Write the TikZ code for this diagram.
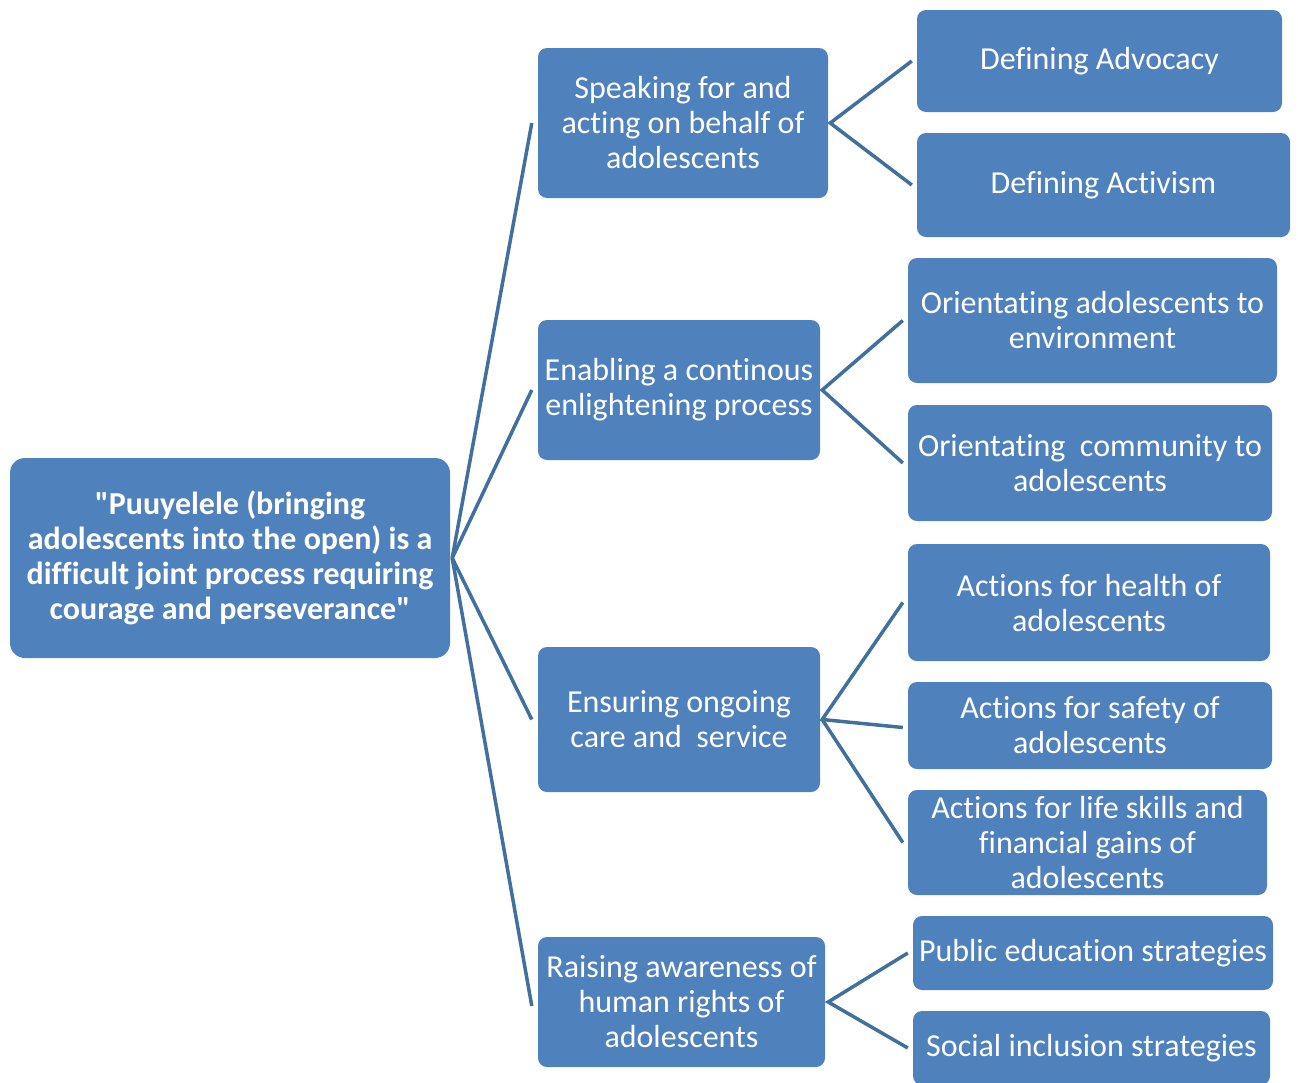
\documentclass[tikz,border=0pt]{standalone}
\usepackage{fontspec}
\setmainfont{Carlito}[Ligatures={TeX,NoCommon}]
\usepackage{tikz}
\usetikzlibrary{positioning}
\definecolor{boxblue}{HTML}{4F81BD}
\definecolor{lineblue}{HTML}{41709F}
\begin{document}
\begin{tikzpicture}[x=1pt,y=-1pt,
  root/.style = {draw=none,rounded corners=15pt,fill=boxblue,text=white,
  inner sep=0pt,align=center,font=\fontsize{32}{35}\selectfont\bfseries},
  box/.style = {draw=none,rounded corners=9pt,fill=boxblue,text=white,
  inner sep=0pt,align=center,font=\fontsize{32}{35}\selectfont},
  link/.style = {draw=lineblue,line width=3.5pt}]
 \useasboundingbox (0,0) rectangle (1298,1082);
 \node[root,minimum width=440pt,minimum height=200pt] (root) at (230,558)
   {\textquotedbl Puuyelele (bringing\\adolescents into the open) is a\\difficult joint process requiring\\courage and perseverance\textquotedbl};
 \node[box,minimum width=290pt,minimum height=150pt] (speak) at (683,123)
   {Speaking for and\\acting on behalf of\\adolescents};
 \node[box,minimum width=282pt,minimum height=140pt] (enable) at (679,390)
   {Enabling a continous\\enlightening process};
 \node[box,minimum width=282pt,minimum height=145pt] (ensure) at (679,719.5)
   {Ensuring ongoing\\care and\ \ service};
 \node[box,minimum width=287pt,minimum height=130pt] (raise) at (681.5,1002)
   {Raising awareness of\\human rights of\\adolescents};
 \node[box,minimum width=365pt,minimum height=102pt] (advoc) at (1099.5,61) {Defining Advocacy};
 \node[box,minimum width=373pt,minimum height=104pt] (activ) at (1103.5,185) {Defining Activism};
 \node[box,minimum width=369pt,minimum height=125pt] (orenv) at (1092.5,320.5)
   {Orientating adolescents to\\environment};
 \node[box,minimum width=364pt,minimum height=116pt] (orcom) at (1090,463)
   {Orientating\ \ community to\\adolescents};
 \node[box,minimum width=362pt,minimum height=117pt] (health) at (1089,602.5)
   {Actions for health of\\adolescents};
 \node[box,minimum width=364pt,minimum height=87pt] (safety) at (1090,725.5)
   {Actions for safety of\\adolescents};
 \node[box,minimum width=359pt,minimum height=105pt] (skills) at (1087.5,842.5)
   {Actions for life skills and\\financial gains of\\adolescents};
 \node[box,minimum width=360pt,minimum height=74pt] (public) at (1093,953)
   {Public education strategies};
 \node[box,minimum width=357pt,minimum height=74pt] (social) at (1091.5,1048)
   {Social inclusion strategies};
 \begin{scope}[link]
  % root to the four themes
  \draw ([xshift=2pt]root.east) -- ([xshift=-6pt]speak.west);
  \draw ([xshift=2pt]root.east) -- ([xshift=-6pt]enable.west);
  \draw ([xshift=2pt]root.east) -- ([xshift=-6pt]ensure.west);
  \draw ([xshift=2pt]root.east) -- ([xshift=-6pt,yshift=-4pt]raise.west);
  % themes to subthemes
  \draw ([xshift=-5pt]advoc.west) -- ([xshift=2pt]speak.east) -- ([xshift=-5pt]activ.west);
  \draw ([xshift=-5pt]orenv.west) -- ([xshift=2pt]enable.east) -- ([xshift=-5pt]orcom.west);
  \draw ([xshift=-5pt]health.west) -- ([xshift=2pt]ensure.east) -- ([xshift=-5pt,yshift=-2pt]safety.west);
  \draw ([xshift=2pt]ensure.east) -- ([xshift=-5pt]skills.west);
  \draw ([xshift=-5pt]public.west) -- ([xshift=3pt]raise.east) -- ([xshift=-5pt]social.west);
 \end{scope}
\end{tikzpicture}
\end{document}
